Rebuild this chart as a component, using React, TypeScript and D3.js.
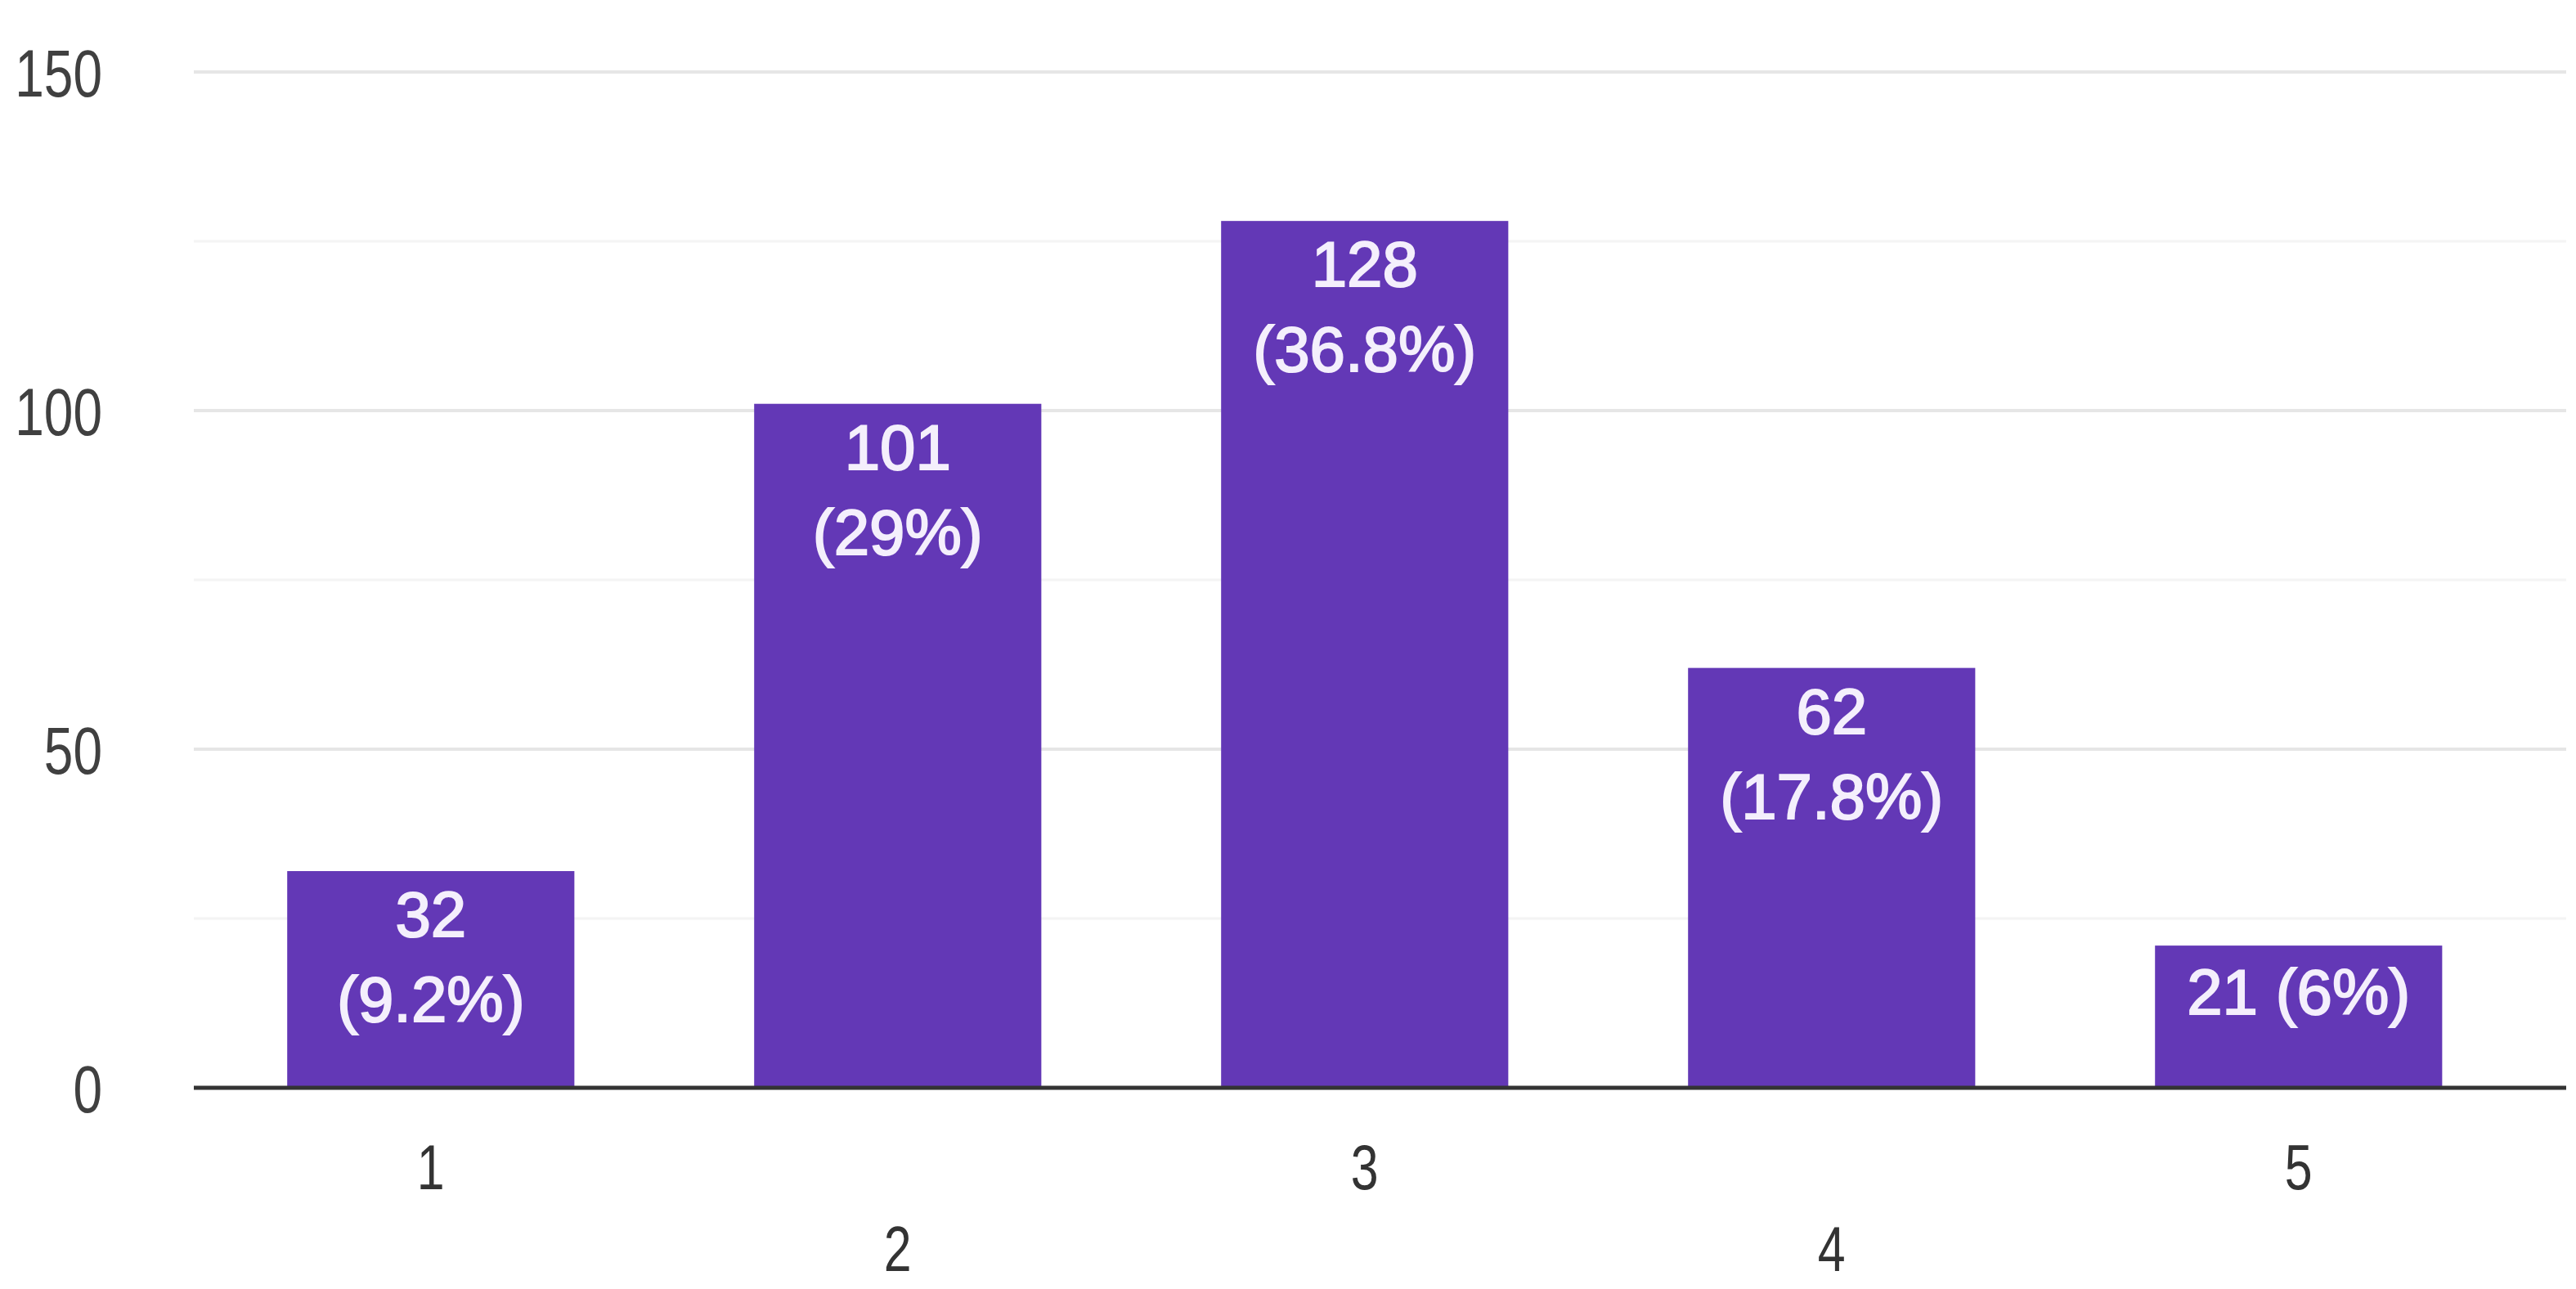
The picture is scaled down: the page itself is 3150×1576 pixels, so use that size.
import React from "react";
import * as d3 from "d3";

const width = 3150,
  height = 1576;

const categories = ["1", "2", "3", "4", "5"];
const counts = [32, 101, 128, 62, 21];
const percents = ["9.2%", "29%", "36.8%", "17.8%", "6%"];
const majorTicks = [0, 50, 100, 150];
const minorTicks = [25, 75, 125];

const left = 237,
  right = 3138,
  top = 88,
  bottom = 1330;

const barColor = "#6338b6";
const axisFont = "'Liberation Sans', Arial, sans-serif";
const labelFont = "'Liberation Sans', Arial, sans-serif";
// the axis digits in the source are narrow, so squeeze them sideways
const squeeze = 0.78;

const App = () => {
  const y = d3.scaleLinear().domain([0, 150]).range([bottom, top]);

  const x = d3
    .scaleBand()
    .domain(categories)
    .range([left, left + 571 * 5.015])
    .paddingInner(0.385)
    .paddingOuter(0.2);

  const data = categories.map((c, i) => ({ cat: c, value: counts[i], pct: percents[i] }));

  return (
    <svg
      width={width}
      height={height}
      style={{ position: "absolute", left: 0, top: 0, background: "#fff" }}
    >
      {/* minor grid */}
      {minorTicks.map((t) => (
        <line key={"m" + t} x1={left} x2={right} y1={y(t)} y2={y(t)} stroke="#f4f4f4" strokeWidth={3} />
      ))}
      {/* major grid */}
      {majorTicks
        .filter((t) => t > 0)
        .map((t) => (
          <line key={"g" + t} x1={left} x2={right} y1={y(t)} y2={y(t)} stroke="#e6e6e6" strokeWidth={4} />
        ))}

      {/* y labels */}
      <g fontFamily={axisFont} fontSize={82} fill="#404040" textAnchor="end">
        {majorTicks.map((t) => (
          <text key={"y" + t} transform={`translate(125,${y(t)}) scale(${squeeze},1)`} dy="0.36em">
            {t}
          </text>
        ))}
      </g>

      {/* bars */}
      {data.map((d) => (
        <rect
          key={"b" + d.cat}
          x={x(d.cat)}
          y={y(d.value)}
          width={x.bandwidth()}
          height={bottom - y(d.value)}
          fill={barColor}
        />
      ))}

      {/* bar labels */}
      <g
        fontFamily={labelFont}
        fontSize={78}
        fill="#f4effc"
        stroke="#f4effc"
        strokeWidth={2}
        textAnchor="middle"
      >
        {data.map((d) => {
          const cx = (x(d.cat) as number) + x.bandwidth() / 2;
          const ty = y(d.value);
          const twoLines = bottom - ty > 220;
          return twoLines ? (
            <text key={"l" + d.cat} x={cx} y={ty + 80}>
              <tspan x={cx}>{d.value}</tspan>
              <tspan x={cx} dy={104}>{`(${d.pct})`}</tspan>
            </text>
          ) : (
            <text key={"l" + d.cat} x={cx} y={ty + 84}>
              {`${d.value} (${d.pct})`}
            </text>
          );
        })}
      </g>

      {/* baseline */}
      <line x1={left} x2={right} y1={bottom} y2={bottom} stroke="#333" strokeWidth={5} />

      {/* x labels, staggered */}
      <g fontFamily={axisFont} fontSize={78} fill="#333" textAnchor="middle">
        {categories.map((c, i) => (
          <text
            key={"x" + c}
            transform={`translate(${(x(c) as number) + x.bandwidth() / 2},${
              i % 2 === 0 ? 1454 : 1554
            }) scale(${squeeze},1)`}
          >
            {c}
          </text>
        ))}
      </g>
    </svg>
  );
};

export default App;
